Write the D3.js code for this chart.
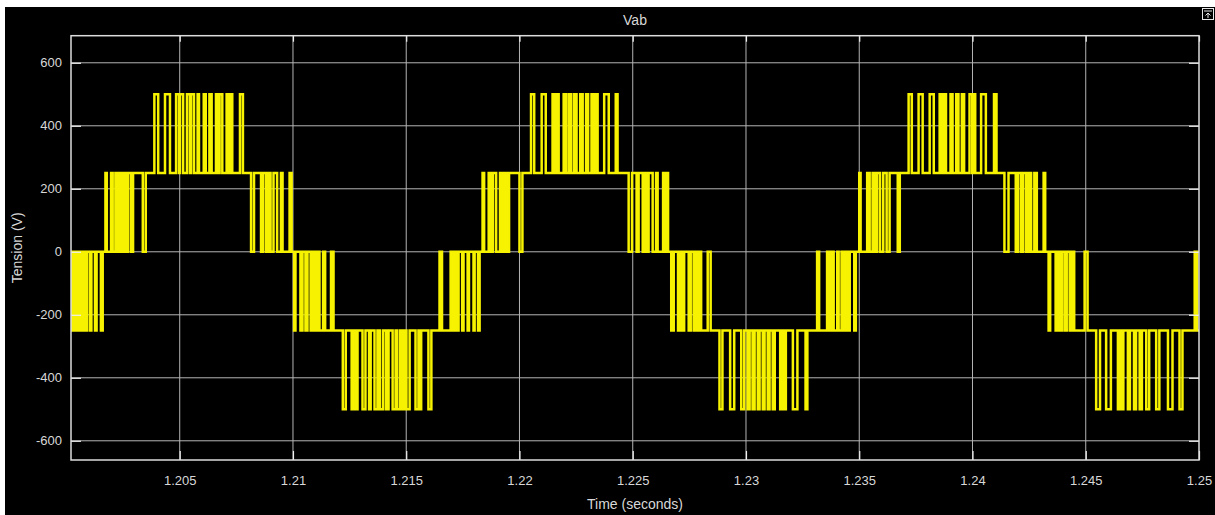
<!DOCTYPE html>
<html>
<head>
<meta charset="utf-8">
<script src="https://cdn.jsdelivr.net/npm/d3@7"></script>
<style>
  html, body { margin: 0; padding: 0; background: #ffffff; }
  svg { display: block; }
  text { font-family: "Liberation Sans", Arial, Helvetica, sans-serif; }
</style>
</head>
<body>
<svg id="scope" width="1215" height="515"></svg>
<script>
// ---- data ----------------------------------------------------------
const titleText = "Vab";
const xLabelText = "Time (seconds)";
const yLabelText = "Tension (V)";

const T0 = 1.2;                       // switching instants below are ms after T0
const timeDomain = [1.2002, 1.25];    // s
const voltDomain = [-661, 686];       // V
const xTickValues = [1.205, 1.21, 1.215, 1.22, 1.225, 1.23, 1.235, 1.24, 1.245, 1.25];
const yTickValues = [-600, -400, -200, 0, 200, 400, 600];

// line voltage level at the left edge of the window
const startLevel = -250;
// each switching band toggles between bandFrom[i] and bandTo[i]
const bandFrom = [-250, 0, 250, 250, 0, -250, -250, 0, 250, 250, 0, -250, -250, 0, 250, 250, 0, -250, -250];
const bandTo   = [0, 250, 500, 0, -250, -500, 0, 250, 500, 0, -250, -500, 0, 250, 500, 0, -250, -500, 0];
// switching instants (ms after T0) inside each band
const switchMs = [
  [0.24, 0.31, 0.38, 0.44, 0.51, 0.62, 0.73, 0.84, 0.91, 1.04, 1.10, 1.26, 1.33, 1.52, 1.60],
  [1.72, 1.78, 1.97, 2.04, 2.16, 2.25, 2.34, 2.43, 2.52, 2.63, 2.72, 2.85, 2.94, 3.37, 3.50],
  [3.88, 4.05, 4.35, 4.57, 4.84, 4.97, 5.01, 5.15, 5.32, 5.45, 5.50, 5.63, 5.79, 5.85, 6.06, 6.15,
   6.31, 6.41, 6.60, 6.71, 6.76, 6.88, 7.07, 7.18, 7.22, 7.32, 7.66, 7.79],
  [8.15, 8.28, 8.59, 8.68, 8.81, 8.92, 9.01, 9.14, 9.30, 9.47, 9.54, 9.85, 9.94],
  [10.05, 10.11, 10.33, 10.42, 10.55, 10.64, 10.78, 10.89, 10.97, 11.08, 11.17, 11.33, 11.42, 11.68, 11.79],
  [12.20, 12.33, 12.59, 12.70, 12.76, 12.85, 13.07, 13.20, 13.36, 13.43, 13.60, 13.73, 13.84, 13.98, 14.11,
   14.22, 14.40, 14.53, 14.60, 14.73, 14.84, 14.95, 15.01, 15.15, 15.41, 15.54, 15.59, 15.66, 15.98, 16.11],
  [16.47, 16.58, 16.96, 17.05, 17.13, 17.24, 17.31, 17.47, 17.53, 17.71, 17.77, 17.97, 18.02, 18.17, 18.24],
  [18.37, 18.44, 18.64, 18.72, 18.83, 18.97, 19.14, 19.25, 19.34, 19.45, 19.54, 20.00, 20.13],
  [20.51, 20.65, 20.98, 21.16, 21.46, 21.57, 21.64, 21.73, 21.95, 22.06, 22.18, 22.28, 22.41, 22.52,
   22.68, 22.79, 22.94, 23.03, 23.18, 23.29, 23.36, 23.45, 23.74, 23.94, 24.25, 24.33],
  [24.82, 24.97, 25.17, 25.26, 25.44, 25.52, 25.59, 25.70, 25.88, 26.03, 26.10, 26.34, 26.41, 26.50, 26.56],
  [26.70, 26.81, 27.00, 27.09, 27.18, 27.27, 27.47, 27.56, 27.69, 27.80, 27.84, 27.95, 28.02, 28.31, 28.44],
  [28.83, 28.96, 29.30, 29.48, 29.79, 29.92, 30.07, 30.16, 30.29, 30.38, 30.52, 30.60, 30.74, 30.82,
   30.96, 31.04, 31.18, 31.27, 31.51, 31.62, 31.66, 31.76, 32.07, 32.27, 32.63, 32.71],
  [33.14, 33.23, 33.58, 33.67, 33.78, 33.87, 34.03, 34.09, 34.22, 34.33, 34.42, 34.53, 34.58, 34.78, 34.85],
  [35.00, 35.06, 35.35, 35.46, 35.59, 35.68, 35.79, 35.92, 36.06, 36.21, 36.34, 36.70, 36.79],
  [37.18, 37.32, 37.62, 37.80, 38.11, 38.29, 38.55, 38.66, 38.73, 38.83, 39.03, 39.12, 39.28, 39.38,
   39.53, 39.63, 39.87, 39.99, 40.03, 40.12, 40.38, 40.59, 40.95, 41.06],
  [41.41, 41.59, 41.91, 42.00, 42.13, 42.24, 42.37, 42.48, 42.59, 42.73, 42.84, 43.14, 43.21],
  [43.36, 43.43, 43.67, 43.74, 43.85, 43.94, 44.06, 44.16, 44.29, 44.39, 44.49, 44.95, 45.08],
  [45.46, 45.63, 45.90, 46.11, 46.42, 46.52, 46.57, 46.66, 46.86, 46.95, 47.13, 47.22, 47.38, 47.48,
   47.67, 47.80, 48.11, 48.25, 48.63, 48.83, 49.14, 49.27],
  [49.81, 49.92]
];

// ---- build the stepped waveform ------------------------------------
const samples = [{ t: timeDomain[0], v: startLevel }];
let level = startLevel;
switchMs.forEach((edges, i) => {
  edges.forEach(ms => {
    level = (level === bandFrom[i]) ? bandTo[i] : bandFrom[i];
    samples.push({ t: T0 + ms / 1000, v: level });
  });
});
samples.push({ t: timeDomain[1], v: level });

// ---- layout --------------------------------------------------------
const svg = d3.select("#scope");
const W = 1215, H = 515;
const plot = { left: 71, right: 1199, top: 35.7, bottom: 460 };

const x = d3.scaleLinear().domain(timeDomain).range([plot.left, plot.right]);
const y = d3.scaleLinear().domain(voltDomain).range([plot.bottom, plot.top]);

// black scope panel
svg.append("rect").attr("x", 5).attr("y", 7).attr("width", W - 5).attr("height", H - 7)
  .attr("fill", "#000000");

// grid
const grid = svg.append("g").attr("stroke", "#b4b4b4").attr("stroke-width", 1);
grid.selectAll("line.v").data(xTickValues.filter(d => d < timeDomain[1])).join("line")
  .attr("x1", d => x(d)).attr("x2", d => x(d))
  .attr("y1", plot.top).attr("y2", plot.bottom);
grid.selectAll("line.h").data(yTickValues).join("line")
  .attr("x1", plot.left).attr("x2", plot.right)
  .attr("y1", d => y(d)).attr("y2", d => y(d));

// waveform
svg.append("clipPath").attr("id", "plotClip").append("rect")
  .attr("x", plot.left).attr("y", plot.top)
  .attr("width", plot.right - plot.left).attr("height", plot.bottom - plot.top);

const line = d3.line().x(d => x(d.t)).y(d => y(d.v)).curve(d3.curveStepAfter);
svg.append("path").datum(samples)
  .attr("clip-path", "url(#plotClip)")
  .attr("fill", "none").attr("stroke", "#f6f200").attr("stroke-width", 2.5)
  .attr("stroke-linejoin", "miter")
  .attr("d", line);

// axes
const fmtX = d => String(+d.toFixed(3));
const fmtY = d => String(d);
const axisColor = "#dcdcdc";
const labelColor = "#d8d8d8";

const gx = svg.append("g").attr("transform", `translate(0,${plot.bottom})`)
  .call(d3.axisBottom(x).tickValues(xTickValues).tickFormat(fmtX).tickSize(-9).tickPadding(16));
const gxTop = svg.append("g").attr("transform", `translate(0,${plot.top})`)
  .call(d3.axisTop(x).tickValues(xTickValues).tickFormat("").tickSize(-6));
const gy = svg.append("g").attr("transform", `translate(${plot.left},0)`)
  .call(d3.axisLeft(y).tickValues(yTickValues).tickFormat(fmtY).tickSize(-10).tickPadding(9));
const gyRight = svg.append("g").attr("transform", `translate(${plot.right},0)`)
  .call(d3.axisRight(y).tickValues(yTickValues).tickFormat("").tickSize(-10));

[gx, gxTop, gy, gyRight].forEach(g => {
  g.select(".domain").remove();
  g.selectAll(".tick line").attr("stroke", "#f0f0f0").attr("stroke-width", 1.2);
  g.selectAll(".tick text").attr("fill", labelColor).attr("font-size", 13)
    .attr("font-family", "'Liberation Sans', Arial, sans-serif");
});

// frame
svg.append("rect")
  .attr("x", plot.left).attr("y", plot.top)
  .attr("width", plot.right - plot.left).attr("height", plot.bottom - plot.top)
  .attr("fill", "none").attr("stroke", axisColor).attr("stroke-width", 1.5);

// titles
svg.append("text").attr("x", (plot.left + plot.right) / 2).attr("y", 25)
  .attr("text-anchor", "middle").attr("fill", labelColor).attr("font-size", 14)
  .text(titleText);
svg.append("text").attr("x", (plot.left + plot.right) / 2).attr("y", 509)
  .attr("text-anchor", "middle").attr("fill", labelColor).attr("font-size", 14)
  .text(xLabelText);
svg.append("text")
  .attr("transform", `translate(22,${(plot.top + plot.bottom) / 2}) rotate(-90)`)
  .attr("text-anchor", "middle").attr("fill", labelColor).attr("font-size", 14)
  .text(yLabelText);

// undock button in the top-right corner
const btn = svg.append("g").attr("transform", "translate(1202,8)")
  .attr("fill", "none").attr("stroke", "#e8e8e8").attr("stroke-width", 1);
btn.append("rect").attr("x", 0.5).attr("y", 0.5).attr("width", 11).attr("height", 11);
btn.append("line").attr("x1", 2).attr("x2", 10).attr("y1", 3).attr("y2", 3);
btn.append("path").attr("d", "M6,10 V5 M3.5,7.5 L6,5 L8.5,7.5");
</script>
</body>
</html>
